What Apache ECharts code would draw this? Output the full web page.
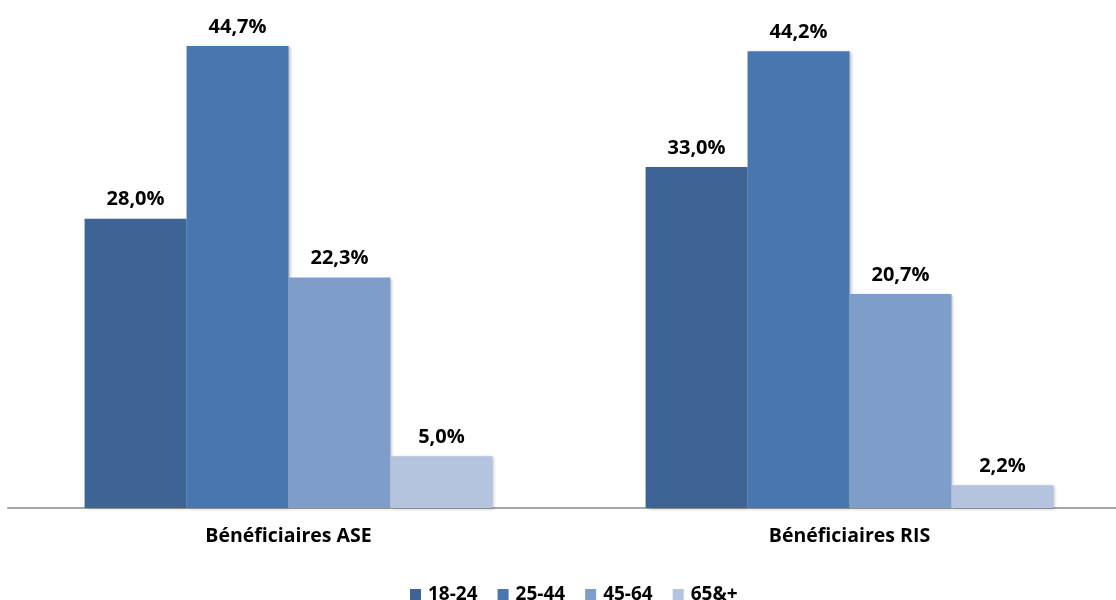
<!DOCTYPE html>
<html>
<head>
<meta charset="utf-8">
<script src="https://cdn.jsdelivr.net/npm/echarts@6/dist/echarts.min.js"></script>
<style>
  html, body { margin: 0; padding: 0; background: #fff; }
  #chart { width: 1116px; height: 600px; }
</style>
</head>
<body>
<div id="chart"></div>
<script>
// Age-group breakdown of benefit recipients (percent)
const categories = ['Bénéficiaires ASE', 'Bénéficiaires RIS'];
const groups = ['18-24', '25-44', '45-64', '65&+'];
const values1824 = [28.0, 33.0];
const values2544 = [44.7, 44.2];
const values4564 = [22.3, 20.7];
const values65 = [5.0, 2.2];
const colors = ['#3D6495', '#4877B0', '#7F9DC9', '#B4C3DE'];

const seriesValues = [values1824, values2544, values4564, values65];
const fontFamily = '"Open Sans", "Liberation Sans", sans-serif';

const chart = echarts.init(document.getElementById('chart'));
chart.setOption({
  animation: false,
  color: colors,
  grid: {
    left: 8, width: 1122, top: 43, bottom: 92,
    containLabel: false,
    outerBoundsMode: 'none'
  },
  legend: {
    top: 580,
    left: 405,
    itemWidth: 11,
    itemHeight: 11,
    itemGap: 20,
    icon: 'rect',
    textStyle: { fontFamily, fontWeight: 'bold', fontSize: 19, color: '#000', padding: [0, 0, 0, 2] },
    data: groups
  },
  xAxis: {
    type: 'category',
    data: categories,
    axisLine: { lineStyle: { color: '#A6A6A6', width: 2 } },
    axisTick: { show: false },
    axisLabel: { fontFamily, fontWeight: 'bold', fontSize: 19.5, color: '#000', margin: 18 }
  },
  yAxis: {
    type: 'value',
    min: 0,
    max: 45,
    show: false,
    splitLine: { show: false }
  },
  series: seriesValues.map((vals, i) => ({
    name: groups[i],
    type: 'bar',
    data: vals,
    barGap: '0%',
    barCategoryGap: '27.3%',
    itemStyle: {
      color: colors[i],
      shadowColor: 'rgba(0,0,0,0.25)',
      shadowBlur: 3,
      shadowOffsetX: 2,
      shadowOffsetY: 1
    },
    label: {
      show: true,
      position: 'top',
      distance: 9,
      fontFamily,
      fontWeight: 'bold',
      fontSize: 20,
      color: '#000',
      formatter: p => p.value.toFixed(1).replace('.', ',') + '%'
    }
  }))
});
</script>
</body>
</html>
